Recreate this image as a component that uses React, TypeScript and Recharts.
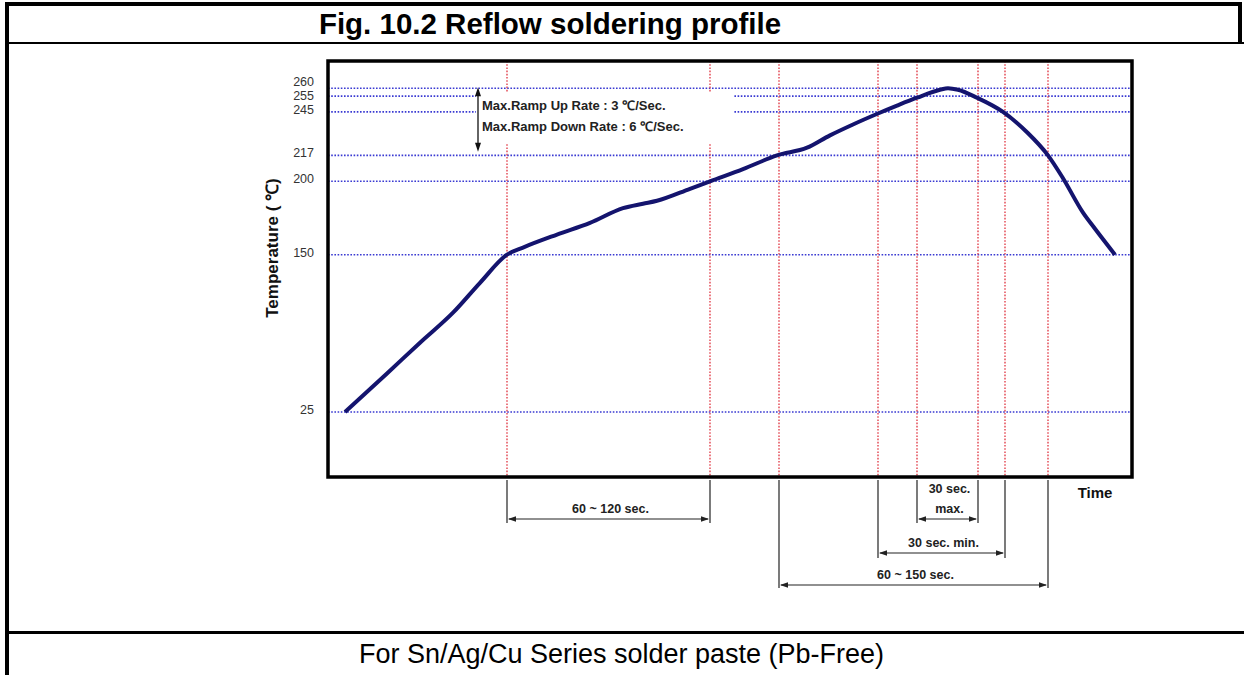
import React from 'react';
import { LineChart, Line, XAxis, YAxis, CartesianGrid, ReferenceArea, Label } from 'recharts';

// ---- data (time in s, temperature in °C) ----
const timeSec = [8.5, 29.5, 46, 62.5, 76, 89.5, 97.5, 114.5, 131, 147.5, 157.5, 164.5, 181, 191, 207.5, 224.5, 239.5, 251, 262.5, 275, 284.5, 294.5, 306, 310, 315, 324.5, 337.5, 349.5, 360, 367.5, 377.5, 383.5, 393.5];
const tempC = [25, 60, 85, 108, 130, 150, 155, 164, 172, 182, 185, 187, 195, 200, 208, 217, 222, 230, 237, 244, 249, 254, 259, 260, 259, 254, 245, 232, 217, 202, 179, 168, 150];
const markerTimes = [89.5, 191, 225.5, 275, 294.5, 325, 338.5, 360];
const tempTicks = [25, 150, 200, 217, 245, 255, 260];
const timeDomain = [0, 402];
const tempDomain = [-47, 277];
const spanStarts = [89.5, 294.5, 275, 225.5];
const spanEnds = [191, 325, 338.5, 360];
const spanLabels = [['60 ~ 120 sec.'], ['30 sec.', 'max.'], ['30 sec. min.'], ['60 ~ 150 sec.']];
const rampNotes = ['Max.Ramp Up Rate : 3 ℃/Sec.', 'Max.Ramp Down Rate : 6 ℃/Sec.'];
const rampNoteTemps = [220, 260];
const rampNoteTimes = [75, 202.5];

// ---- layout (pixels) ----
const spanArrowDepth = [42, 42, 76, 108];
const spanExtDepth = [46, 46, 81, 111];

const data = timeSec.map((t, i) => ({ t, temp: tempC[i] }));

const FONT = "Arial, 'Liberation Sans', sans-serif";

// signed power scale (the reference's temperature axis is not linear)
function powScale(k: number): any {
  let dom = [0, 1];
  let rng = [0, 1];
  const f = (v: number) => (v < 0 ? -Math.pow(-v, k) : Math.pow(v, k));
  const fi = (v: number) => (v < 0 ? -Math.pow(-v, 1 / k) : Math.pow(v, 1 / k));
  const s: any = (v: any) => {
    const a = f(dom[0]);
    const b = f(dom[1]);
    return rng[0] + ((f(Number(v)) - a) / (b - a)) * (rng[1] - rng[0]);
  };
  s.domain = (d?: any[]) => {
    if (d === undefined) return dom.slice();
    dom = d.map(Number);
    return s;
  };
  s.range = (r?: any[]) => {
    if (r === undefined) return rng.slice();
    rng = r.map(Number);
    return s;
  };
  s.invert = (p: number) => {
    const a = f(dom[0]);
    const b = f(dom[1]);
    return fi(a + ((p - rng[0]) / (rng[1] - rng[0])) * (b - a));
  };
  s.copy = () => powScale(k).domain(dom).range(rng);
  s.ticks = (n = 10) => {
    const lo = Math.min(dom[0], dom[1]);
    const hi = Math.max(dom[0], dom[1]);
    const step = (hi - lo) / n;
    const out: number[] = [];
    for (let i = 0; i <= n; i++) out.push(lo + i * step);
    return out;
  };
  s.tickFormat = () => (v: any) => String(v);
  s.nice = () => s;
  s.clamp = () => s;
  s.unknown = () => s;
  return s;
}

const tempScale = powScale(1.2);

const YTick = (p: any) => {
  const v = p.payload.value;
  const dy = v === 260 ? -6 : v === 255 ? 0 : -2;
  return (
    <text x={p.x} y={p.y + dy} textAnchor="end" dominantBaseline="central" fontSize={12.5} fill="#333" fontFamily={FONT}>
      {v}
    </text>
  );
};

const spanShape = (p: any, i: number) => {
  const { x, y, width, height } = p;
  const bottom = y + height;
  const ay = bottom + spanArrowDepth[i];
  const ey = bottom + spanExtDepth[i];
  const x1 = x;
  const x2 = x + width;
  const lines = spanLabels[i];
  const c = '#222';
  return (
    <g>
      <line x1={x1} y1={bottom + 3} x2={x1} y2={ey} stroke={c} strokeWidth={1.2} />
      <line x1={x2} y1={bottom + 3} x2={x2} y2={ey} stroke={c} strokeWidth={1.2} />
      <line x1={x1 + 2} y1={ay} x2={x2 - 2} y2={ay} stroke={c} strokeWidth={1.2} />
      <polygon points={`${x1 + 1},${ay} ${x1 + 9},${ay - 2.8} ${x1 + 9},${ay + 2.8}`} fill={c} />
      <polygon points={`${x2 - 1},${ay} ${x2 - 9},${ay - 2.8} ${x2 - 9},${ay + 2.8}`} fill={c} />
      {lines.map((s, k) => (
        <text key={k} x={(x1 + x2) / 2 + 2} y={ay - 6 - (lines.length - 1 - k) * 20} textAnchor="middle" fontSize={12.5} fontWeight="bold" fill={c} fontFamily={FONT}>
          {s}
        </text>
      ))}
    </g>
  );
};

const rampShape = (p: any) => {
  const { x, y, width, height } = p;
  const c = '#111';
  const bottom = y + height;
  return (
    <g>
      <rect x={x - 2} y={y + 4} width={width + 2} height={51} fill="#fff" />
      <line x1={x} y1={y + 2} x2={x} y2={bottom - 2} stroke={c} strokeWidth={1.3} />
      <polygon points={`${x},${y - 1} ${x - 3},${y + 8} ${x + 3},${y + 8}`} fill={c} />
      <polygon points={`${x},${bottom + 1} ${x - 3},${bottom - 8} ${x + 3},${bottom - 8}`} fill={c} />
      {rampNotes.map((s, k) => (
        <text key={k} x={x + 4} y={y + 22 + k * 21} fontSize={13} fontWeight="bold" fill="#222" fontFamily={FONT}>
          {s}
        </text>
      ))}
    </g>
  );
};

const hLine = (p: any) => (
  <line key={p.key} x1={p.x1} y1={p.y1} x2={p.x2} y2={p.y2} stroke="#3a3ad2" strokeWidth={1.6} strokeDasharray="1.6 1.6" />
);
const vLine = (p: any) => (
  <line key={p.key} x1={p.x1} y1={p.y1} x2={p.x2} y2={p.y2} stroke="#e2404c" strokeWidth={1.4} strokeDasharray="1.6 1.6" />
);

const EmptyTick = () => <g />;

export default function App() {
  return (
    <div style={{ position: 'absolute', left: 0, top: 0, width: 1244, height: 675, background: '#fff', overflow: 'hidden' }}>
      <div style={{ position: 'absolute', left: 0, top: 0 }}>
        <LineChart width={1244} height={631} data={data} margin={{ top: 61, right: 112, bottom: 153, left: 268 }}>
          <CartesianGrid horizontal={hLine} vertical={vLine} syncWithTicks />
          <XAxis
            type="number"
            dataKey="t"
            domain={timeDomain}
            ticks={markerTimes}
            interval={0}
            height={1}
            axisLine={false}
            tickLine={false}
            tick={EmptyTick}
          >
            <Label
              content={(lp: any) => {
                const vb = lp.viewBox || {};
                return (
                  <text x={vb.x + vb.width - 37} y={vb.y + 21} textAnchor="middle" fontSize={15} fontWeight="bold" fill="#111" fontFamily={FONT}>
                    Time
                  </text>
                );
              }}
            />
          </XAxis>
          <YAxis
            type="number"
            domain={tempDomain}
            scale={tempScale}
            ticks={tempTicks}
            interval={0}
            width={60}
            axisLine={false}
            tickLine={false}
            tickSize={6}
            tickMargin={8}
            tick={<YTick />}
          >
            <Label
              content={(lp: any) => {
                const vb = lp.viewBox || {};
                const cx = vb.x + 4;
                const cy = vb.y + vb.height / 2 - 21;
                return (
                  <text transform={`translate(${cx},${cy}) rotate(-90)`} textAnchor="middle" dominantBaseline="central" fontSize={17} fontWeight="bold" fill="#111" fontFamily={FONT}>
                    Temperature ( ℃)
                  </text>
                );
              }}
            />
          </YAxis>
          <ReferenceArea
            x1={rampNoteTimes[0]}
            x2={rampNoteTimes[1]}
            y1={rampNoteTemps[0]}
            y2={rampNoteTemps[1]}
            ifOverflow="visible"
            fill="none"
            shape={rampShape}
          />
          {spanStarts.map((s, i) => (
            <ReferenceArea key={i} x1={s} x2={spanEnds[i]} ifOverflow="visible" fill="none" shape={(p: any) => spanShape(p, i)} />
          ))}
          <Line type="monotone" dataKey="temp" stroke="#14146e" strokeWidth={4} dot={false} activeDot={false} isAnimationActive={false} />
          <ReferenceArea
            x1={timeDomain[0]}
            x2={timeDomain[1]}
            y1={tempDomain[0]}
            y2={tempDomain[1]}
            ifOverflow="visible"
            fill="none"
            fillOpacity={0}
            stroke="#000"
            strokeOpacity={1}
            strokeWidth={3.5}
          />
        </LineChart>
      </div>
      {/* page frame */}
      <div style={{ position: 'absolute', left: 5, top: 2, width: 4, height: 673, background: '#000' }} />
      <div style={{ position: 'absolute', left: 5, top: 2, width: 1237, height: 4, background: '#000' }} />
      <div style={{ position: 'absolute', left: 1238, top: 2, width: 4, height: 42, background: '#000' }} />
      <div style={{ position: 'absolute', left: 5, top: 42, width: 1239, height: 2, background: '#000' }} />
      <div style={{ position: 'absolute', left: 5, top: 631, width: 1239, height: 3, background: '#000' }} />
      <div style={{ position: 'absolute', left: 0, top: 6, width: 1100, height: 36, lineHeight: '36px', textAlign: 'center', fontFamily: FONT, fontWeight: 'bold', fontSize: 29.5, color: '#000' }}>
        Fig. 10.2 Reflow soldering profile
      </div>
      <div style={{ position: 'absolute', left: 0, top: 634, width: 1243, height: 41, lineHeight: '41px', textAlign: 'center', fontFamily: FONT, fontSize: 27, color: '#000' }}>
        For Sn/Ag/Cu Series solder paste (Pb-Free)
      </div>
    </div>
  );
}
